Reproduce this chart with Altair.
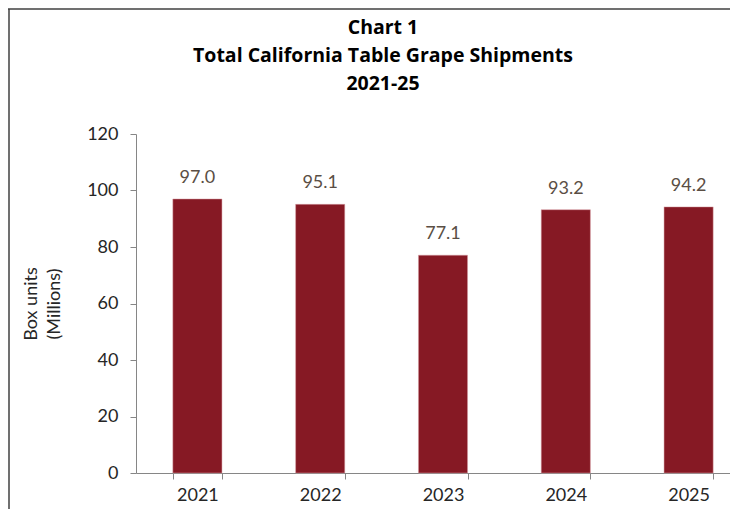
import altair as alt
import pandas as pd

years = ["2021", "2022", "2023", "2024", "2025"]
shipments = [97.0, 95.1, 77.1, 93.2, 94.2]
labels = ["97.0", "95.1", "77.1", "93.2", "94.2"]
title_lines = ["Chart 1", "Total California Table Grape Shipments", "2021-25"]
y_title = ["Box units", "(Millions)"]

df = pd.DataFrame({"year": years, "value": shipments, "label": labels})

FONT = "Lato"
TFONT = "Open Sans"
BAR = "#861924"

xenc = alt.X(
    "year:N",
    sort=years,
    title=None,
    scale=alt.Scale(range=[0, 614], paddingInner=0.6, paddingOuter=0.3),
    axis=alt.Axis(
        labelAngle=0, labelFontSize=18, labelColor="#262626", labelFont=FONT,
        tickBand="extent", tickSize=6, tickColor="#868686", domainColor="#868686",
        labelPadding=7, grid=False,
    ),
)
yenc = alt.Y(
    "value:Q",
    title=y_title,
    scale=alt.Scale(domain=[0, 120]),
    axis=alt.Axis(
        values=[0, 20, 40, 60, 80, 100, 120], labelFontSize=18, labelColor="#262626",
        labelFont=FONT, tickSize=6, tickColor="#868686", domainColor="#868686",
        labelPadding=12, grid=False, titleFont=FONT, titleFontSize=18,
        titleFontWeight="normal", titleColor="#262626", titleX=-96,
        titleLineHeight=23,
    ),
)

bars = alt.Chart(df).mark_bar(color=BAR, stroke="#d9a0a6", strokeWidth=0.5).encode(x=xenc, y=yenc)
text = alt.Chart(df).mark_text(
    baseline="middle", dy=-21, font=FONT, fontSize=18, color="#5a4e44"
).encode(x=alt.X("year:N", sort=years), y="value:Q", text="label:N")

frame = alt.Data(values=[{"a": 1}])
left_line = alt.Chart(frame).mark_rule(color="#404040", strokeWidth=1.5).encode(
    x=alt.value(-127), y=alt.value(-125), y2=alt.value(400)
)
top_line = alt.Chart(frame).mark_rule(color="#404040", strokeWidth=1.5).encode(
    x=alt.value(-128), x2=alt.value(620), y=alt.value(-125)
)

chart = alt.layer(bars, text, left_line, top_line).properties(
    width=594,
    height=339,
    padding={"left": 128, "top": 126, "right": 0, "bottom": 36},
    autosize=alt.AutoSizeParams(type="none"),
    title=alt.TitleParams(
        text=title_lines, font=TFONT, fontSize=19.5, fontWeight="bold", color="#000000",
        anchor="middle", lineHeight=28, dx=-50, offset=-86,
    ),
).configure_view(stroke=None)

chart.save("out.html", embed_options={"renderer": "svg", "actions": False})
